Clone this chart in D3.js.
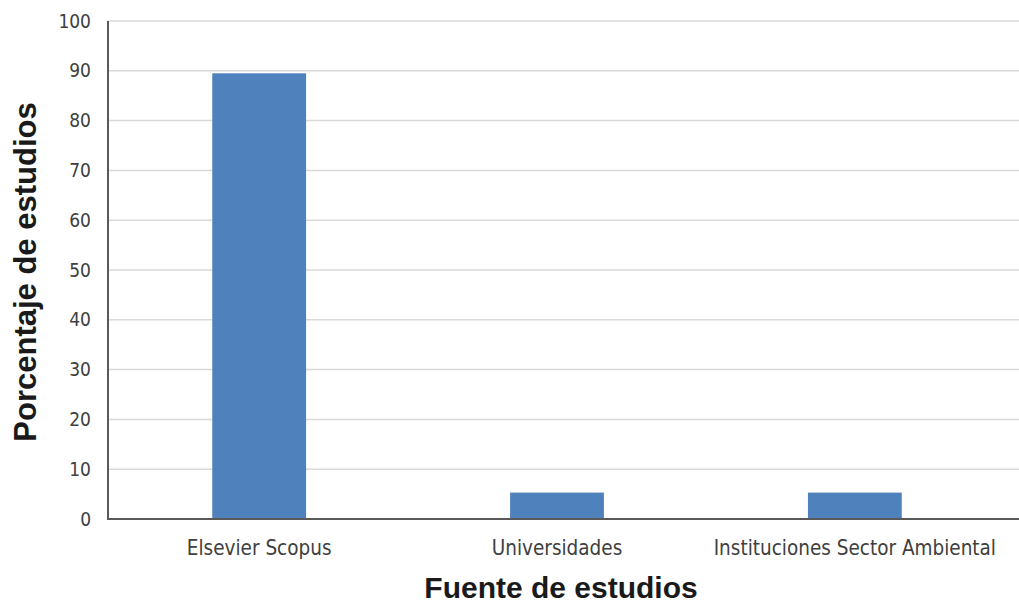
<!DOCTYPE html>
<html lang="es">
<head>
<meta charset="UTF-8">
<title>Fuente de estudios</title>
<script src="https://d3js.org/d3.v7.min.js"></script>
<style>
  body { margin: 0; background: #fff; }
  .tick text { font-family: "DejaVu Sans Condensed", "DejaVu Sans", sans-serif; fill: #404040; }
  .title { font-family: "Liberation Sans", Arial, sans-serif; font-weight: bold; fill: #1a1a1a; }
</style>
</head>
<body>
<svg id="chart" width="1019" height="604"></svg>
<script>
// data
var categories = ["Elsevier Scopus", "Universidades", "Instituciones Sector Ambiental"];
var values = [89.5, 5.3, 5.3];
var yTicks = [0, 10, 20, 30, 40, 50, 60, 70, 80, 90, 100];

var svg = d3.select("#chart");
// plot box ("top" is taken by window.top, so use other names)
var plotL = 108, plotR = 1019, plotT = 21, plotB = 519;

var x = d3.scaleBand()
    .domain(categories)
    .range([111, 1003])
    .paddingInner(0.685)
    .paddingOuter(0.34);

var y = d3.scaleLinear()
    .domain([0, 100])
    .range([plotB, plotT]);

// gridlines
svg.append("g")
    .selectAll("line")
    .data(yTicks.filter(function(d){ return d > 0; }))
    .enter().append("line")
    .attr("x1", plotL).attr("x2", plotR)
    .attr("y1", function(d){ return y(d); })
    .attr("y2", function(d){ return y(d); })
    .style("stroke", "#d9d9d9")
    .style("stroke-width", 1.5);

// bars
svg.append("g")
    .selectAll("rect")
    .data(values)
    .enter().append("rect")
    .attr("x", function(d, i){ return x(categories[i]); })
    .attr("width", x.bandwidth())
    .attr("y", function(d){ return y(d); })
    .attr("height", function(d){ return plotB - y(d); })
    .style("fill", "#4f81bd");

// y axis
var yAxis = d3.axisLeft(y).tickValues(yTicks).tickSize(0).tickPadding(17);
var gy = svg.append("g")
    .attr("transform", "translate(" + plotL + ",0)")
    .call(yAxis);
gy.select(".domain").remove();
gy.selectAll("text").style("font-size", "19px");
svg.append("line")
    .attr("x1", plotL).attr("x2", plotL)
    .attr("y1", plotT).attr("y2", plotB)
    .style("stroke", "#595959").style("stroke-width", 2);

// x axis
var xAxis = d3.axisBottom(x).tickSize(0).tickPadding(21);
var gx = svg.append("g")
    .attr("transform", "translate(0," + plotB + ")")
    .call(xAxis);
gx.select(".domain").remove();
gx.selectAll("text").style("font-size", "20.5px");
svg.append("line")
    .attr("x1", plotL - 1).attr("x2", plotR)
    .attr("y1", plotB).attr("y2", plotB)
    .style("stroke", "#595959").style("stroke-width", 2);

// axis titles
svg.append("text")
    .attr("class", "title")
    .attr("x", 561).attr("y", 598)
    .attr("text-anchor", "middle")
    .style("font-size", "30px")
    .text("Fuente de estudios");

svg.append("text")
    .attr("class", "title")
    .attr("transform", "translate(36,272) rotate(-90)")
    .attr("text-anchor", "middle")
    .style("font-size", "31px")
    .text("Porcentaje de estudios");
</script>
</body>
</html>
